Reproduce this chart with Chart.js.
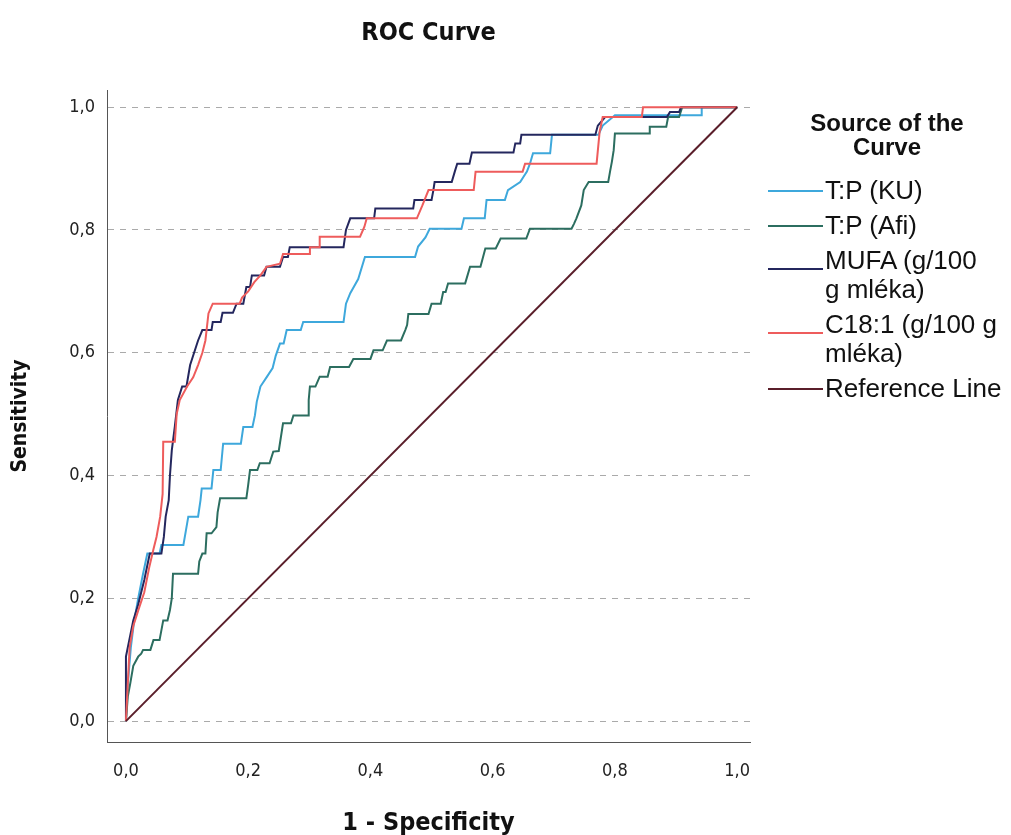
<!DOCTYPE html>
<html><head><meta charset="utf-8">
<script src="https://cdn.jsdelivr.net/npm/chart.js@4.4.0/dist/chart.umd.min.js"></script>
<style>
html,body{margin:0;padding:0;background:#fff;}
#wrap{position:relative;width:1011px;height:835px;overflow:hidden;}
#c{position:absolute;left:0;top:0;}
#legend{position:absolute;left:0;top:0;width:1011px;height:835px;pointer-events:none;font-family:"Liberation Sans",Arial,sans-serif;color:#111;}
.lt{position:absolute;left:767px;width:240px;text-align:center;font-weight:bold;font-size:24px;line-height:24px;}
.li{position:absolute;left:825px;font-size:26px;line-height:30px;white-space:nowrap;}
.ls{position:absolute;left:768px;width:55px;height:2px;}
</style></head>
<body><div id="wrap"><canvas id="c" width="1011" height="835"></canvas><div id="legend"></div></div>
<script>
// ---- data ----
const tickValues = [0, 0.2, 0.4, 0.6, 0.8, 1.0];
const tickLabels = ['0,0', '0,2', '0,4', '0,6', '0,8', '1,0'];
const seriesNames = ['T:P (KU)', 'T:P (Afi)', 'MUFA (g/100 g mléka)', 'C18:1 (g/100 g mléka)', 'Reference Line'];
const legendLines = [['T:P (KU)'], ['T:P (Afi)'], ['MUFA (g/100', 'g mléka)'], ['C18:1 (g/100 g', 'mléka)'], ['Reference Line']];
const seriesColors = ['#3ea8dc', '#2c6e60', '#24275e', '#ee5c5c', '#5a1e2a'];

const kuX = [0,0.003,0.008,0.013,0.02,0.028,0.035,0.055,0.058,0.094,0.098,0.102,0.118,0.122,0.124,0.14,0.143,0.155,0.159,0.188,0.192,0.207,0.211,0.214,0.22,0.23,0.24,0.245,0.252,0.258,0.263,0.286,0.29,0.356,0.36,0.367,0.38,0.391,0.473,0.478,0.49,0.497,0.549,0.553,0.587,0.59,0.62,0.625,0.645,0.656,0.661,0.666,0.694,0.697,0.773,0.78,0.8,0.942,0.942,1];
const kuY = [0,0.06,0.12,0.16,0.2,0.24,0.273,0.273,0.287,0.287,0.31,0.333,0.333,0.36,0.379,0.379,0.409,0.409,0.452,0.452,0.479,0.479,0.498,0.52,0.545,0.56,0.575,0.595,0.615,0.615,0.637,0.637,0.65,0.65,0.68,0.697,0.72,0.756,0.756,0.773,0.788,0.802,0.802,0.819,0.819,0.849,0.849,0.865,0.878,0.895,0.908,0.925,0.925,0.955,0.955,0.97,0.987,0.987,1,1];

const afiX = [0,0.003,0.007,0.012,0.02,0.025,0.028,0.04,0.045,0.055,0.061,0.068,0.072,0.075,0.077,0.118,0.12,0.125,0.13,0.132,0.14,0.148,0.15,0.154,0.197,0.2,0.203,0.215,0.219,0.235,0.241,0.25,0.257,0.27,0.274,0.298,0.299,0.301,0.31,0.317,0.33,0.334,0.365,0.372,0.4,0.405,0.42,0.427,0.45,0.457,0.46,0.462,0.495,0.5,0.515,0.519,0.523,0.527,0.555,0.563,0.58,0.588,0.605,0.613,0.655,0.661,0.729,0.733,0.737,0.745,0.749,0.757,0.789,0.792,0.795,0.798,0.8,0.857,0.857,0.884,0.887,0.905,0.91,1];
const afiY = [0,0.04,0.061,0.09,0.105,0.11,0.116,0.116,0.132,0.132,0.164,0.164,0.181,0.2,0.24,0.24,0.26,0.273,0.273,0.306,0.306,0.316,0.34,0.363,0.363,0.385,0.409,0.409,0.42,0.42,0.439,0.44,0.485,0.485,0.498,0.498,0.523,0.545,0.545,0.561,0.561,0.577,0.577,0.59,0.59,0.604,0.604,0.62,0.62,0.637,0.645,0.663,0.663,0.68,0.68,0.699,0.699,0.713,0.713,0.74,0.74,0.77,0.77,0.786,0.786,0.802,0.802,0.81,0.819,0.84,0.865,0.878,0.878,0.895,0.911,0.93,0.957,0.957,0.968,0.968,0.984,0.984,1,1];

const mufaX = [0,0,0.012,0.02,0.03,0.039,0.058,0.062,0.065,0.07,0.072,0.075,0.08,0.085,0.092,0.099,0.105,0.118,0.125,0.14,0.142,0.155,0.158,0.175,0.181,0.192,0.197,0.203,0.206,0.226,0.23,0.252,0.257,0.265,0.268,0.356,0.36,0.367,0.406,0.408,0.47,0.472,0.5,0.503,0.505,0.533,0.538,0.542,0.562,0.566,0.634,0.637,0.645,0.647,0.768,0.772,0.784,0.885,0.89,0.905,0.908,1];
const mufaY = [0,0.105,0.164,0.19,0.23,0.273,0.273,0.3,0.333,0.36,0.4,0.441,0.48,0.523,0.545,0.545,0.58,0.62,0.637,0.637,0.65,0.65,0.665,0.665,0.68,0.68,0.707,0.707,0.726,0.726,0.74,0.74,0.756,0.756,0.772,0.772,0.8,0.819,0.819,0.835,0.835,0.849,0.849,0.865,0.878,0.878,0.895,0.908,0.908,0.926,0.926,0.941,0.941,0.955,0.955,0.97,0.984,0.984,0.992,0.992,1,1];

const c18X = [0,0.003,0.006,0.012,0.02,0.03,0.038,0.045,0.05,0.056,0.06,0.061,0.08,0.083,0.088,0.1,0.11,0.118,0.125,0.13,0.135,0.142,0.186,0.19,0.2,0.21,0.22,0.23,0.252,0.257,0.301,0.301,0.317,0.317,0.383,0.39,0.394,0.476,0.485,0.495,0.569,0.572,0.649,0.653,0.77,0.775,0.78,0.844,0.846,1];
const c18Y = [0,0.06,0.12,0.155,0.18,0.21,0.25,0.28,0.3,0.333,0.37,0.455,0.455,0.5,0.523,0.545,0.56,0.58,0.6,0.62,0.664,0.68,0.68,0.69,0.7,0.715,0.726,0.74,0.745,0.761,0.761,0.772,0.772,0.789,0.789,0.805,0.819,0.819,0.84,0.865,0.865,0.895,0.895,0.908,0.908,0.96,0.984,0.984,1,1];

const refX = [0, 1];
const refY = [0, 1];

// ---- chart ----
const toPts = (xs, ys) => xs.map((x, i) => ({x: x, y: ys[i]}));
const seriesX = [kuX, afiX, mufaX, c18X, refX];
const seriesY = [kuY, afiY, mufaY, c18Y, refY];
const drawOrder = [4, 3, 2, 1, 0];

const narrow = '"Liberation Sans Narrow", "Arial Narrow", "DejaVu Sans Condensed", "Liberation Sans", sans-serif';

const datasets = seriesNames.map((n, i) => ({
  label: n,
  data: toPts(seriesX[i], seriesY[i]),
  borderColor: seriesColors[i],
  backgroundColor: seriesColors[i],
  borderWidth: 2,
  pointRadius: 0,
  pointHoverRadius: 0,
  showLine: true,
  fill: false,
  tension: 0,
  order: drawOrder[i]
}));

const fixTicks = s => { s.ticks = tickValues.map(v => ({value: v})); };

new Chart(document.getElementById('c'), {
  type: 'scatter',
  data: {datasets},
  options: {
    responsive: false,
    animation: false,
    events: [],
    layout: {padding: {left: 0, right: 261, top: 0, bottom: 0}},
    plugins: {
      legend: {display: false},
      tooltip: {enabled: false},
      title: {
        display: true, text: 'ROC Curve', fullSize: false, color: '#111',
        font: {family: narrow, size: 25, weight: 'bold'},
        padding: {top: 18, bottom: 42}
      }
    },
    scales: {
      x: {
        type: 'linear', min: -0.031, max: 1.021,
        afterBuildTicks: fixTicks,
        afterFit: s => { s.height = 93; },
        grid: {display: false, drawTicks: false},
        border: {display: true, color: '#555', width: 1},
        ticks: {padding: 19, color: '#222', font: {family: narrow, size: 18}, callback: (v, i) => tickLabels[i], maxRotation: 0},
        title: {display: true, text: '1 - Specificity', color: '#111', font: {family: narrow, size: 25, weight: 'bold'}, padding: {top: 0, bottom: -3}}
      },
      y: {
        type: 'linear', min: -0.034, max: 1.028,
        afterBuildTicks: fixTicks,
        afterFit: s => { s.width = 107; },
        grid: {display: true, drawTicks: false, color: '#aaaaaa', lineWidth: 1},
        border: {display: true, color: '#555', width: 1, dash: [6, 6]},
        ticks: {padding: 12, color: '#222', font: {family: narrow, size: 18}, callback: (v, i) => tickLabels[i]},
        title: {display: true, text: 'Sensitivity', color: '#111', font: {family: narrow, size: 21, weight: 'bold'}, padding: {top: 8, bottom: 0}}
      }
    }
  }
});

// ---- legend (HTML text) ----
const lg = document.getElementById('legend');
['Source of the', 'Curve'].forEach((t, k) => {
  const d = document.createElement('div'); d.className = 'lt'; d.textContent = t;
  d.style.top = (111 + k * 24) + 'px'; lg.appendChild(d);
});
const linePitch = 29, itemGap = 6;
let cy = 190;
legendLines.forEach((lines, i) => {
  lines.forEach((t, k) => {
    const d = document.createElement('div'); d.className = 'li'; d.textContent = t;
    d.style.top = (cy + k * linePitch - 15) + 'px'; lg.appendChild(d);
  });
  const s = document.createElement('div'); s.className = 'ls'; s.style.background = seriesColors[i];
  s.style.top = (cy + (lines.length > 1 ? 8 : 0)) + 'px'; lg.appendChild(s);
  cy += lines.length * linePitch + itemGap;
});
</script></body></html>
